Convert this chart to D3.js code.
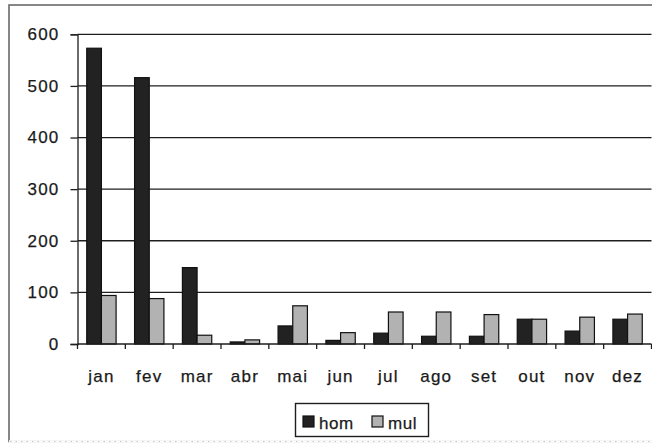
<!DOCTYPE html>
<html>
<head>
<meta charset="utf-8">
<script src="https://cdn.jsdelivr.net/npm/d3@7"></script>
<style>
  html, body { margin: 0; padding: 0; background: #fff; }
  svg { display: block; }
  text { font-family: "Liberation Sans", Arial, sans-serif; fill: #1a1a1a; stroke: #1a1a1a; stroke-width: 0.25px; }
</style>
</head>
<body>
<svg id="chart" width="652" height="443"></svg>
<script>
// Monthly counts, men (hom) and women (mul)
const months = ["jan", "fev", "mar", "abr", "mai", "jun", "jul", "ago", "set", "out", "nov", "dez"];
const hom = [573, 516, 148, 4, 35, 7, 21, 15, 15, 48, 25, 48];
const mul = [94, 88, 17, 8, 74, 22, 62, 62, 57, 48, 52, 58];
const seriesNames = ["hom", "mul"];
const seriesColors = ["#222222", "#b2b2b2"];
const yTicks = [0, 100, 200, 300, 400, 500, 600];

const svg = d3.select("#chart");

// outer chart frame
svg.append("rect")
  .attr("x", 9).attr("y", 5)
  .attr("width", 700).attr("height", 436.5)
  .attr("fill", "none")
  .attr("stroke", "#6a6a6a")
  .attr("stroke-width", 1.6);
svg.append("line")
  .attr("x1", 9).attr("x2", 652)
  .attr("y1", 441.5).attr("y2", 441.5)
  .attr("stroke", "#fff").attr("stroke-width", 2.5);
svg.append("line")
  .attr("x1", 10).attr("x2", 652)
  .attr("y1", 441.5).attr("y2", 441.5)
  .attr("stroke", "#c8c8c8").attr("stroke-width", 1)
  .attr("stroke-dasharray", "1.5,4");

const plot = { left: 77.5, right: 651.5, top: 34.3, bottom: 344 };

const x = d3.scaleBand().domain(months).range([plot.left, plot.right]).padding(0);
const xs = d3.scaleBand().domain(seriesNames).range([0, x.bandwidth()])
  .paddingInner(0).paddingOuter(0.63);
const y = d3.scaleLinear().domain([0, 600]).range([plot.bottom, plot.top]);

// horizontal gridlines
svg.append("g")
  .selectAll("line")
  .data(yTicks.filter(d => d > 0))
  .join("line")
  .attr("x1", plot.left).attr("x2", plot.right)
  .attr("y1", d => y(d)).attr("y2", d => y(d))
  .attr("stroke", "#1e1e1e").attr("stroke-width", 1.3);

// y axis
const yAxis = svg.append("g")
  .attr("transform", `translate(${plot.left},0)`)
  .call(d3.axisLeft(y).tickValues(yTicks).tickSize(7).tickPadding(11).tickFormat(d3.format("d")));
yAxis.select(".domain").attr("stroke", "#1e1e1e").attr("stroke-width", 1.3);
yAxis.selectAll(".tick line").attr("stroke", "#1e1e1e").attr("stroke-width", 1.3);
yAxis.selectAll(".tick text")
  .attr("font-size", 17).attr("letter-spacing", 1.2)
  .attr("fill", "#1a1a1a").attr("font-family", "Liberation Sans, Arial, sans-serif");

// bars
const rows = months.map((m, i) => ({ month: m, values: [hom[i], mul[i]] }));
const groups = svg.append("g")
  .selectAll("g")
  .data(rows)
  .join("g")
  .attr("transform", d => `translate(${x(d.month)},0)`);
groups.selectAll("rect")
  .data(d => d.values.map((v, k) => ({ key: seriesNames[k], value: v, color: seriesColors[k] })))
  .join("rect")
  .attr("x", d => xs(d.key))
  .attr("width", xs.bandwidth())
  .attr("y", d => y(d.value))
  .attr("height", d => y(0) - y(d.value))
  .attr("fill", d => d.color)
  .attr("stroke", "#111")
  .attr("stroke-width", 1.2);

// x axis with ticks on category boundaries
const xAxisG = svg.append("g").attr("transform", `translate(0,${plot.bottom})`);
xAxisG.append("line")
  .attr("x1", plot.left).attr("x2", plot.right)
  .attr("stroke", "#1e1e1e").attr("stroke-width", 1.5);
xAxisG.selectAll(".tk")
  .data(months.concat(["_end"]))
  .join("line")
  .attr("class", "tk")
  .attr("x1", (d, i) => plot.left + i * x.step())
  .attr("x2", (d, i) => plot.left + i * x.step())
  .attr("y1", 0).attr("y2", 5)
  .attr("stroke", "#1e1e1e").attr("stroke-width", 1.3);
xAxisG.selectAll("text")
  .data(months)
  .join("text")
  .attr("x", d => x(d) + x.bandwidth() / 2)
  .attr("y", 37.5)
  .attr("text-anchor", "middle")
  .attr("font-size", 17)
  .attr("letter-spacing", 1.2)
  .text(d => d);

// legend
const legend = svg.append("g");
legend.append("rect")
  .attr("x", 295.5).attr("y", 403.5)
  .attr("width", 133).attr("height", 33)
  .attr("fill", "#fff").attr("stroke", "#1e1e1e").attr("stroke-width", 1.4);
const legendX = [303, 372];
seriesNames.forEach((name, k) => {
  legend.append("rect")
    .attr("x", legendX[k]).attr("y", 416)
    .attr("width", 11).attr("height", 11)
    .attr("fill", seriesColors[k]).attr("stroke", "#111").attr("stroke-width", 1.2);
  legend.append("text")
    .attr("x", legendX[k] + 16).attr("y", 428.5)
    .attr("font-size", 17)
    .attr("letter-spacing", 0.6)
    .text(name);
});
</script>
</body>
</html>
